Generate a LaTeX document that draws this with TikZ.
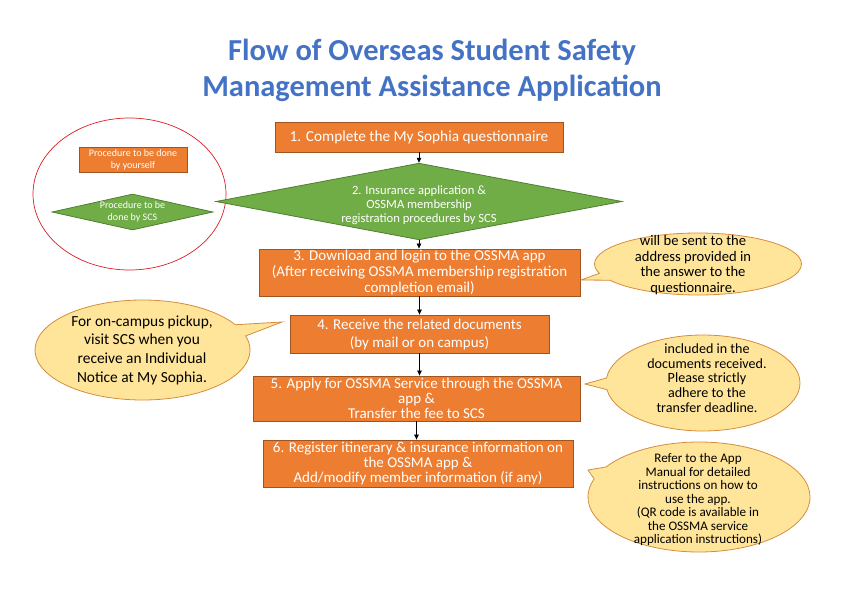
\documentclass[tikz,border=0pt]{standalone}
\usepackage{fontspec}
\setmainfont{Carlito}
\usetikzlibrary{shapes.geometric,shapes.callouts,arrows.meta}
\definecolor{boxorange}{RGB}{237,125,49}
\definecolor{boxorangedk}{RGB}{160,84,32}
\definecolor{dgreen}{RGB}{112,173,71}
\definecolor{dgreendk}{RGB}{80,126,50}
\definecolor{titleblue}{RGB}{68,114,196}
\definecolor{callfill}{RGB}{255,229,153}
\definecolor{calldraw}{RGB}{214,140,62}
\definecolor{legred}{RGB}{220,30,40}
\tikzset{
  stepbox/.style={draw=boxorangedk, fill=boxorange, line width=0.8pt, text=white, align=center, inner sep=0pt},
  scsdiamond/.style={diamond, draw=dgreendk, fill=dgreen, line width=0.8pt, text=white, align=center, inner sep=0pt},
  bubble/.style={ellipse callout, draw=calldraw, fill=callfill, line width=0.8pt, inner sep=0pt, callout pointer arc=14},
  bubbletext/.style={align=center, text=black, inner sep=0pt},
  flowarrow/.style={-{Triangle[length=5pt,width=4.5pt]}, line width=0.7pt, black},
}
\begin{document}
\begin{tikzpicture}[x=1pt,y=-1pt]
\useasboundingbox (0,0) rectangle (842,596);
% title
\node[text=titleblue, font=\fontsize{30.5}{36}\selectfont\bfseries, align=center] (title) at (432,70) {Flow of Overseas Student Safety\\Management Assistance Application};
% legend
\node[ellipse, draw=legred, line width=0.7pt, minimum width=193pt, minimum height=152pt, inner sep=0pt] (legend) at (129.5,194) {};
\node[stepbox, minimum width=108pt, minimum height=25pt, font=\fontsize{10}{12}\selectfont] (legbox) at (133,159.5) {Procedure to be done\\by yourself};
\node[scsdiamond, aspect=4.5, minimum width=161pt, minimum height=36pt, font=\fontsize{10}{12}\selectfont] (legdia) at (132.5,212) {Procedure to be\\done by SCS};
% flow
\node[stepbox, minimum width=288pt, minimum height=30pt, font=\fontsize{15.3}{17}\selectfont] (s1) at (419,137) {1. Complete the My Sophia questionnaire};
\node[scsdiamond, aspect=5.3, minimum width=342pt, minimum height=63pt, font=\fontsize{12.6}{14}\selectfont] (s2) at (419,201.5) {\raisebox{-3.5pt}[\height][\depth]{\parbox{200pt}{\centering 2. Insurance application \&\\OSSMA membership\\registration procedures by SCS}}};
\node[stepbox, minimum width=321pt, minimum height=47pt, font=\fontsize{15}{16}\selectfont] (s3) at (419.5,272.5) {3. Download and login to the OSSMA app\\(After receiving OSSMA membership registration\\completion email)};
\node[stepbox, minimum width=259pt, minimum height=38pt, font=\fontsize{15}{18}\selectfont] (s4) at (419.5,334) {4. Receive the related documents\\(by mail or on campus)};
\node[stepbox, minimum width=327pt, minimum height=45pt, font=\fontsize{15}{15}\selectfont] (s5) at (416.5,398.5) {5. Apply for OSSMA Service through the OSSMA\\app \&\\Transfer the fee to SCS};
\node[stepbox, minimum width=310pt, minimum height=47pt, font=\fontsize{15}{15}\selectfont] (s6) at (418,463.5) {6. Register itinerary \& insurance information on\\the OSSMA app \&\\Add/modify member information (if any)};
\draw[flowarrow] (s1.south) -- (s1.south |- s2.north);
\draw[flowarrow] (s2.south) -- (s2.south |- s3.north);
\draw[flowarrow] (s3.south) -- (s3.south |- s4.north);
\draw[flowarrow] (s4.south) -- (s4.south |- s5.north);
\draw[flowarrow] (s5.south) -- (s5.south |- s6.north);
% callouts
\coordinate (tipA) at (581,280);
\coordinate (tipB) at (282,322);
\coordinate (tipC) at (585,384);
\coordinate (tipD) at (588,470);
\node[bubble, minimum width=207pt, minimum height=62pt, callout absolute pointer={(tipA)}] (cA) at (698,264) {};
\node[bubble, minimum width=215pt, minimum height=100pt, callout absolute pointer={(tipB)}] (cB) at (142.5,350) {};
\node[bubble, minimum width=194pt, minimum height=96pt, callout absolute pointer={(tipC)}] (cC) at (703,383) {};
\node[bubble, minimum width=222pt, minimum height=110pt, callout absolute pointer={(tipD)}] (cD) at (699,497) {};
\node[bubbletext, font=\fontsize{14.6}{15.5}\selectfont] (tA) at (693,265) {will be sent to the\\address provided in\\the answer to the\\questionnaire.};
\node[bubbletext, font=\fontsize{15.4}{18.7}\selectfont] (tB) at (142,350) {For on-campus pickup,\\visit SCS when you\\receive an Individual\\Notice at My Sophia.};
\node[bubbletext, font=\fontsize{14.1}{14.6}\selectfont] (tC) at (707,378) {included in the\\documents received.\\Please strictly\\adhere to the\\transfer deadline.};
\node[bubbletext, font=\fontsize{13.1}{13.5}\selectfont] (tD) at (698,500) {Refer to the App\\Manual for detailed\\instructions on how to\\use the app.\\(QR code is available in\\the OSSMA service\\application instructions)};
\end{tikzpicture}
\end{document}
